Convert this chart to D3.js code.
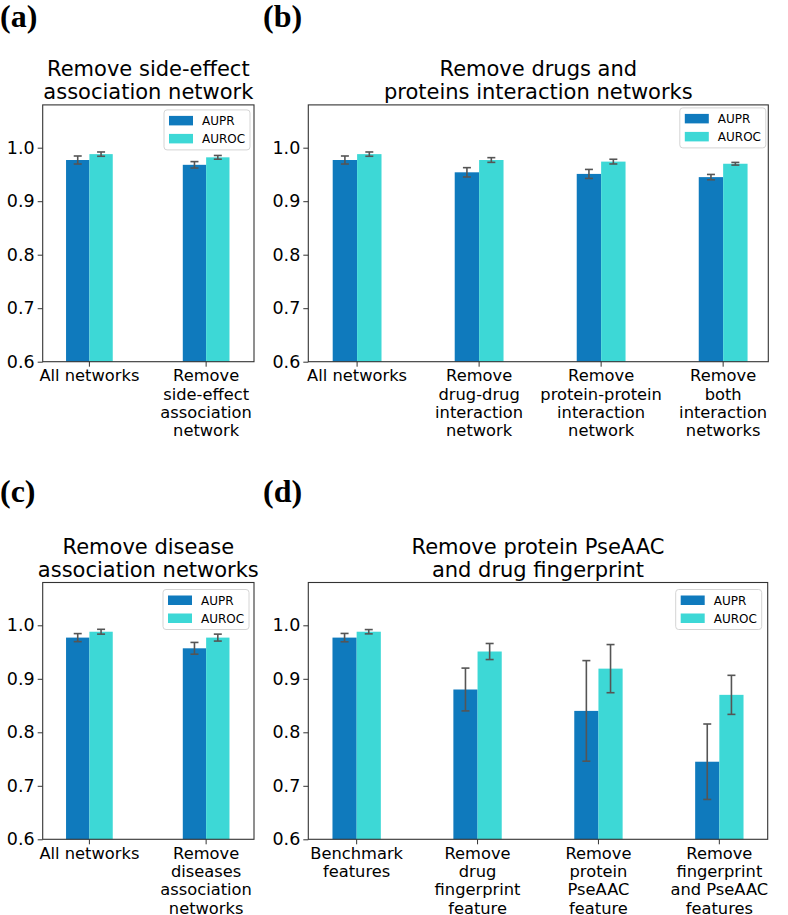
<!DOCTYPE html>
<html>
<head>
<meta charset="utf-8">
<script src="https://cdn.jsdelivr.net/npm/d3@7"></script>
<style>
  body { margin: 0; background: #fff; }
  svg { display: block; font-family: "DejaVu Sans", sans-serif; }
</style>
</head>
<body>
<svg id="chart" width="788" height="915"></svg>
<script>
// data
const series = ['AUPR', 'AUROC'];
const colors = ['#0f7abd', '#3dd8d6'];
const yTicks = [0.6, 0.7, 0.8, 0.9, 1.0];

const aTitle = ['Remove side-effect', 'association network'];
const aCats = [['All networks'], ['Remove', 'side-effect', 'association', 'network']];
const aAupr = [0.977, 0.968];
const aAuprErr = [0.0075, 0.006];
const aAuroc = [0.988, 0.982];
const aAurocErr = [0.004, 0.0035];

const bTitle = ['Remove drugs and', 'proteins interaction networks'];
const bCats = [['All networks'], ['Remove', 'drug-drug', 'interaction', 'network'],
  ['Remove', 'protein-protein', 'interaction', 'network'], ['Remove', 'both', 'interaction', 'networks']];
const bAupr = [0.977, 0.954, 0.951, 0.945];
const bAuprErr = [0.0075, 0.0087, 0.0084, 0.005];
const bAuroc = [0.988, 0.977, 0.974, 0.970];
const bAurocErr = [0.004, 0.0044, 0.0044, 0.0025];

const cTitle = ['Remove disease', 'association networks'];
const cCats = [['All networks'], ['Remove', 'diseases', 'association', 'networks']];
const cAupr = [0.977, 0.957];
const cAuprErr = [0.0075, 0.011];
const cAuroc = [0.988, 0.977];
const cAurocErr = [0.0045, 0.0065];

const dTitle = ['Remove protein PseAAC', 'and drug fingerprint'];
const dCats = [['Benchmark', 'features'], ['Remove', 'drug', 'fingerprint', 'feature'],
  ['Remove', 'protein', 'PseAAC', 'feature'], ['Remove', 'fingerprint', 'and PseAAC', 'features']];
const dAupr = [0.977, 0.880, 0.840, 0.745];
const dAuprErr = [0.0078, 0.040, 0.094, 0.0705];
const dAuroc = [0.988, 0.951, 0.919, 0.870];
const dAurocErr = [0.004, 0.015, 0.045, 0.0365];

// layout of each panel (pixels)
const panels = [
  { tag: '(a)', tagX: 0, tagY: 27, title: aTitle, cats: aCats, vals: [aAupr, aAuroc], errs: [aAuprErr, aAurocErr],
    x0: 42.7, x1: 254, bottom: 361.7, xMax: 1.41, legRight: 4, legTop: 5 },
  { tag: '(b)', tagX: 263, tagY: 27, title: bTitle, cats: bCats, vals: [bAupr, bAuroc], errs: [bAuprErr, bAurocErr],
    x0: 308.3, x1: 768.3, bottom: 361.7, xMax: 3.37, legRight: 2.5, legTop: 3 },
  { tag: '(c)', tagX: 0, tagY: 502, title: cTitle, cats: cCats, vals: [cAupr, cAuroc], errs: [cAuprErr, cAurocErr],
    x0: 42.7, x1: 254, bottom: 839.3, xMax: 1.41, legRight: 5, legTop: 7 },
  { tag: '(d)', tagX: 263, tagY: 502, title: dTitle, cats: dCats, vals: [dAupr, dAuroc], errs: [dAuprErr, dAurocErr],
    x0: 308.3, x1: 767.7, bottom: 839.3, xMax: 3.4, legRight: 6, legTop: 7 },
];

const svg = d3.select('#chart');
const barW = 0.2;

panels.forEach(p => {
  const top = p.bottom - 256.8;
  const x = d3.scaleLinear().domain([-0.4, p.xMax]).range([p.x0, p.x1]);
  const y = d3.scaleLinear().domain([0.6, 1.08]).range([p.bottom, top]);
  const g = svg.append('g');

  // panel tag
  g.append('text')
    .attr('x', p.tagX).attr('y', p.tagY)
    .attr('font-family', '"Liberation Serif", serif')
    .attr('font-weight', 'bold')
    .attr('font-size', 32)
    .text(p.tag);

  // title
  p.title.forEach((line, i) => {
    g.append('text')
      .attr('x', (p.x0 + p.x1) / 2)
      .attr('y', top - 5.5 - (p.title.length - 1 - i) * 23)
      .attr('text-anchor', 'middle')
      .attr('font-size', 21)
      .text(line);
  });

  // bars
  series.forEach((s, si) => {
    const off = si === 0 ? -barW : 0;
    g.selectAll('.bar' + si)
      .data(p.vals[si])
      .join('rect')
      .attr('x', (d, i) => x(i + off))
      .attr('width', x(barW) - x(0))
      .attr('y', d => y(d))
      .attr('height', d => y(0.6) - y(d))
      .attr('fill', colors[si]);
  });

  // error bars
  series.forEach((s, si) => {
    const off = si === 0 ? -barW / 2 : barW / 2;
    p.vals[si].forEach((v, i) => {
      const e = p.errs[si][i];
      const cx = x(i + off);
      const eg = g.append('g').attr('stroke', '#555').attr('stroke-width', 1.6);
      eg.append('line').attr('x1', cx).attr('x2', cx).attr('y1', y(v - e)).attr('y2', y(v + e));
      [v - e, v + e].forEach(t => {
        eg.append('line').attr('x1', cx - 4).attr('x2', cx + 4).attr('y1', y(t)).attr('y2', y(t));
      });
    });
  });

  // frame
  g.append('rect')
    .attr('x', p.x0).attr('y', top)
    .attr('width', p.x1 - p.x0).attr('height', p.bottom - top)
    .attr('fill', 'none').attr('stroke', '#333').attr('stroke-width', 1.1);

  // y axis
  const yAxis = g.append('g')
    .attr('transform', `translate(${p.x0},0)`)
    .call(d3.axisLeft(y).tickValues(yTicks).tickFormat(d3.format('.1f')).tickSize(5).tickPadding(3));
  yAxis.select('.domain').remove();
  yAxis.selectAll('line').attr('stroke', '#333');
  yAxis.selectAll('text').attr('font-size', 17.5).attr('font-family', '"DejaVu Sans", sans-serif').attr('fill', '#000');

  // x ticks and multi-line labels
  p.cats.forEach((lines, i) => {
    g.append('line')
      .attr('x1', x(i)).attr('x2', x(i))
      .attr('y1', p.bottom).attr('y2', p.bottom + 5)
      .attr('stroke', '#333');
    lines.forEach((ln, li) => {
      g.append('text')
        .attr('x', x(i))
        .attr('y', p.bottom + 19.5 + li * 18.3)
        .attr('text-anchor', 'middle')
        .attr('font-size', 16.3)
        .text(ln);
    });
  });

  // legend
  const lw = 86, lh = 40;
  const lx = p.x1 - p.legRight - lw, ly = top + p.legTop;
  const leg = g.append('g').attr('transform', `translate(${lx},${ly})`);
  leg.append('rect')
    .attr('width', lw).attr('height', lh).attr('rx', 3)
    .attr('fill', '#fff').attr('fill-opacity', 0.8)
    .attr('stroke', '#d4d4d4');
  series.forEach((s, si) => {
    leg.append('rect')
      .attr('x', 5).attr('y', 6 + si * 18)
      .attr('width', 24).attr('height', 9.5)
      .attr('fill', colors[si]);
    leg.append('text')
      .attr('x', 38).attr('y', 15.5 + si * 18)
      .attr('font-size', 12)
      .text(s);
  });
});
</script>
</body>
</html>
